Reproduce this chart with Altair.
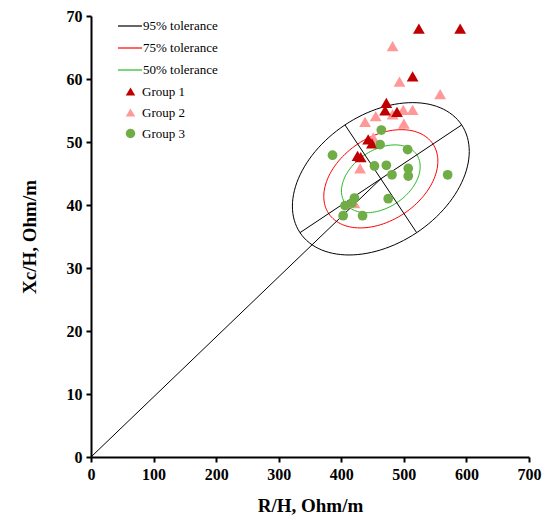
import altair as alt
import pandas as pd
import numpy as np

# ---- data ----
g1_x = [524, 590, 514, 472, 470, 489, 443, 449, 426, 431]
g1_y = [68.0, 68.0, 60.4, 56.2, 55.0, 54.8, 50.4, 49.8, 47.8, 47.6]
g2_x = [482, 493, 558, 499, 514, 482, 455, 438, 500, 451, 430, 421]
g2_y = [65.2, 59.6, 57.6, 55.1, 55.1, 54.4, 54.1, 53.2, 52.9, 50.7, 45.8, 40.3]
g3_x = [464, 462, 506, 386, 453, 472, 481, 507, 507, 570, 421, 475, 417, 406, 403, 434]
g3_y = [51.9, 49.6, 48.8, 47.9, 46.2, 46.3, 44.8, 45.8, 44.6, 44.8, 41.1, 41.0, 40.3, 39.9, 38.3, 38.3]

group_names = ["Group 1", "Group 2", "Group 3"]
group_colors = ["#C00000", "#FF9999", "#70AD47"]
group_shapes = ["triangle-up", "triangle-up", "circle"]

tol_names = ["95% tolerance", "75% tolerance", "50% tolerance"]
tol_colors = ["#000000", "#FF0000", "#22BB22"]
tol_scales = [1.0, 0.645, 0.445]

# ellipse geometry (data units): centre and two conjugate semi-axis vectors
center = (463.2, 44.16)
semi_a = (129.2, 8.55)
semi_b = (-57.3, 8.55)

# ---- tables ----
t = np.linspace(0, 2 * np.pi, 121)
rows = []
for name, s in zip(tol_names, tol_scales):
    for i, tt in enumerate(t):
        rows.append({
            "x": center[0] + s * (semi_a[0] * np.cos(tt) + semi_b[0] * np.sin(tt)),
            "y": center[1] + s * (semi_a[1] * np.cos(tt) + semi_b[1] * np.sin(tt)),
            "band": name, "i": i})
ell_df = pd.DataFrame(rows)

seg_rows = [
    {"seg": "origin", "i": 0, "x": 0, "y": 0},
    {"seg": "origin", "i": 1, "x": center[0], "y": center[1]},
    {"seg": "major", "i": 0, "x": center[0] - semi_a[0], "y": center[1] - semi_a[1]},
    {"seg": "major", "i": 1, "x": center[0] + semi_a[0], "y": center[1] + semi_a[1]},
    {"seg": "minor", "i": 0, "x": center[0] - semi_b[0], "y": center[1] - semi_b[1]},
    {"seg": "minor", "i": 1, "x": center[0] + semi_b[0], "y": center[1] + semi_b[1]},
]
seg_df = pd.DataFrame(seg_rows)

pts = []
for gx, gy, g in [(g2_x, g2_y, "Group 2"), (g1_x, g1_y, "Group 1"), (g3_x, g3_y, "Group 3")]:
    for a, b in zip(gx, gy):
        pts.append({"x": a, "y": b, "group": g})
pts_df = pd.DataFrame(pts)

FONT = "Liberation Serif"

xs = alt.Scale(domain=[0, 700], nice=False, zero=True)
ys = alt.Scale(domain=[0, 70], nice=False, zero=True)

x_axis = alt.Axis(
    values=list(range(0, 701, 50)),
    labelExpr="datum.value % 100 == 0 ? datum.label : ''",
    title="R/H, Ohm/m", grid=False, labelOverlap=False, labelFlush=False,
    labelFontSize=16, titleFontSize=19, titlePadding=14, labelPadding=4,
)
y_axis = alt.Axis(
    values=list(range(0, 71, 5)),
    labelExpr="datum.value % 10 == 0 ? datum.label : ''",
    title="Xc/H, Ohm/m", grid=False, labelOverlap=False, labelFlush=False,
    labelFontSize=16, titleFontSize=19, titlePadding=27, labelPadding=4,
)

ell = alt.Chart(ell_df).mark_line(strokeWidth=1).encode(
    x=alt.X("x:Q", scale=xs, axis=x_axis),
    y=alt.Y("y:Q", scale=ys, axis=y_axis),
    stroke=alt.Stroke("band:N", scale=alt.Scale(domain=tol_names, range=tol_colors),
                      legend=alt.Legend(title=None, orient="none", legendX=26, legendY=-3,
                                        symbolSize=576, symbolStrokeWidth=1.2,
                                        labelOffset=0, rowPadding=2)),
    order="i:Q",
)

segs = alt.Chart(seg_df).mark_line(strokeWidth=1, color="black").encode(
    x="x:Q", y="y:Q", detail="seg:N", order="i:Q",
)

leg_pts = alt.Legend(title=None, orient="none", legendX=33, legendY=69,
                     symbolSize=90, labelOffset=5, rowPadding=7)
points = alt.Chart(pts_df).mark_point(filled=True, opacity=1, size=140).encode(
    x="x:Q", y="y:Q",
    color=alt.Color("group:N", scale=alt.Scale(domain=group_names, range=group_colors), legend=leg_pts),
    shape=alt.Shape("group:N", scale=alt.Scale(domain=group_names, range=group_shapes), legend=leg_pts),
    size=alt.condition("datum.group == 'Group 3'", alt.value(95), alt.value(140)),
)

chart = alt.layer(ell, segs, points).properties(
    width=438, height=441,
    autosize=alt.AutoSizeParams(type="none"),
    padding={"left": 91, "top": 16, "right": 19, "bottom": 60},
).configure_view(stroke=None).configure_axis(
    domainColor="black", domainWidth=2, tickColor="black", tickWidth=2, tickSize=5,
    labelFont=FONT, labelFontWeight="bold", labelColor="black",
    titleFont=FONT, titleFontWeight="bold", titleColor="black",
).configure_legend(
    labelFont=FONT, labelFontSize=13, labelColor="black", padding=0,
)

chart.save("out.html", embed_options={"renderer": "svg", "actions": False})
